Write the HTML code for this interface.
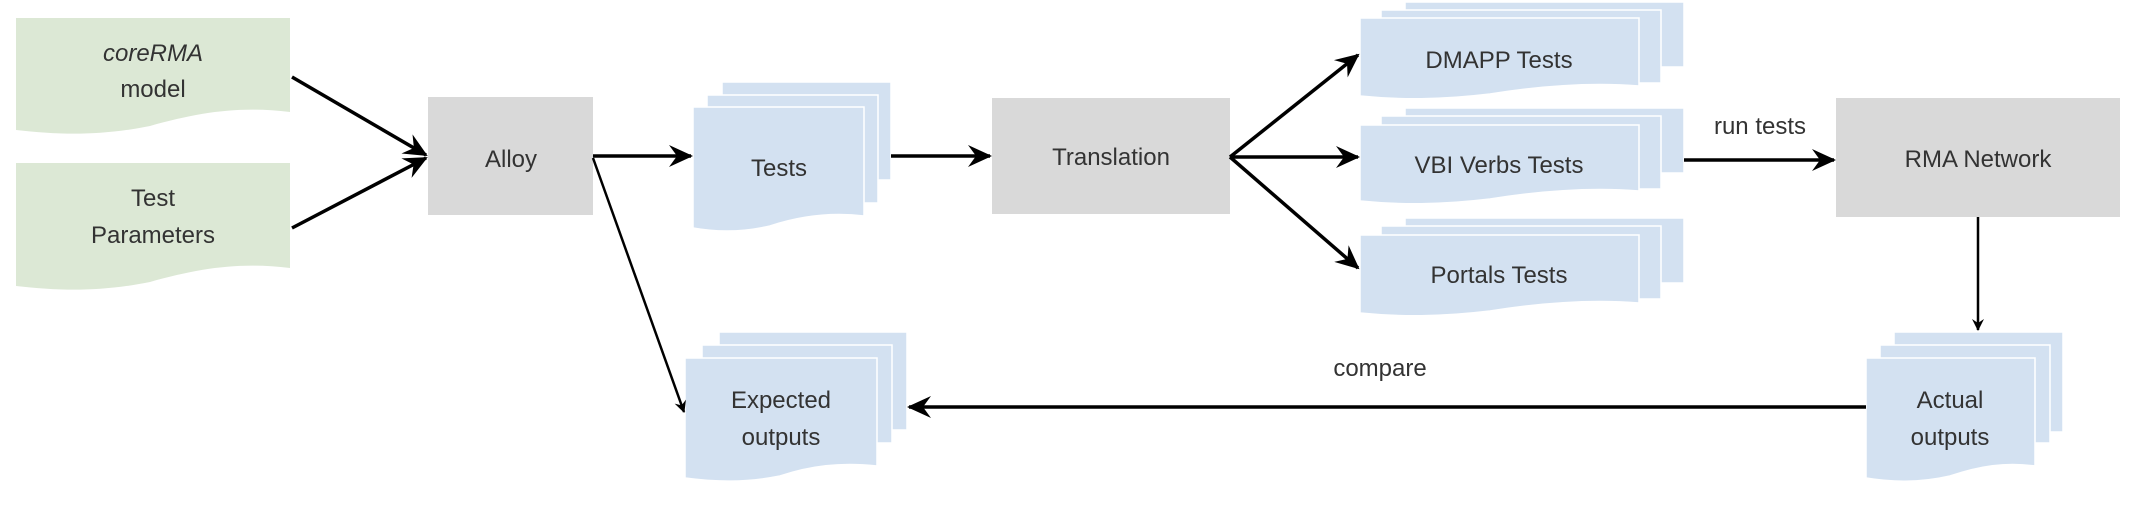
<!DOCTYPE html>
<html><head><meta charset="utf-8"><style>
html,body{margin:0;padding:0;background:#fff;}
svg text{font-family:"Liberation Sans",sans-serif;font-size:24px;fill:#333;}
</style></head><body>
<svg width="2136" height="512" viewBox="0 0 2136 512" xmlns="http://www.w3.org/2000/svg">
<defs>
<marker id="a" markerWidth="12" markerHeight="12" refX="11" refY="6" orient="auto" markerUnits="userSpaceOnUse" viewBox="0 0 12 12">
<path d="M0,0 L12,6 L0,12 L4,6 Z" fill="#000"/>
</marker>
<marker id="b" markerWidth="24" markerHeight="24" refX="22" refY="12" orient="auto" markerUnits="userSpaceOnUse" viewBox="0 0 24 24">
<path d="M0,1 L24,12 L0,23 L8,12 Z" fill="#000"/>
</marker>
</defs>
<g fill="#dce8d5">
<path d="M16,18 H290 V112 C240,106 200,112 150,126 C100,136 60,135 16,130 Z"/>
<path d="M16,163 H290 V268 C240,262 200,268 150,282 C100,292 60,291 16,286 Z"/>
</g>
<g fill="#d9d9d9">
<rect x="428" y="97" width="165" height="118"/>
<rect x="992" y="98" width="238" height="116"/>
<rect x="1836" y="98" width="284" height="119"/>
</g>
<g fill="#d3e1f1" stroke="#fff" stroke-width="1.5">
<rect x="722" y="82" width="169" height="98"/>
<rect x="707" y="95" width="171" height="108"/>
<path d="M693,107 H864 V216 C830,212 800,216 770,226 C740,233 715,232 693,228 Z"/>
<rect x="1405" y="2" width="279" height="65"/>
<rect x="1381" y="10" width="280" height="73"/>
<path d="M1360,18 H1639 V86 C1590,82 1540,86 1490,94 C1440,100 1400,100 1360,96 Z"/>
<rect x="1405" y="108" width="279" height="65"/>
<rect x="1381" y="116" width="280" height="73"/>
<path d="M1360,125 H1639 V191 C1590,187 1540,191 1490,199 C1440,205 1400,205 1360,201 Z"/>
<rect x="1405" y="218" width="279" height="65"/>
<rect x="1381" y="226" width="280" height="73"/>
<path d="M1360,235 H1639 V303 C1590,299 1540,303 1490,311 C1440,317 1400,317 1360,313 Z"/>
<rect x="719" y="332" width="188" height="98"/>
<rect x="702" y="345" width="190" height="98"/>
<path d="M685,358 H877 V466 C840,462 810,466 780,476 C745,483 715,482 685,478 Z"/>
<rect x="1894" y="332" width="169" height="100"/>
<rect x="1880" y="345" width="170" height="98"/>
<path d="M1866,358 H2035 V466 C2005,462 1980,466 1950,476 C1920,483 1890,482 1866,478 Z"/>
</g>
<g stroke="#000" stroke-width="3.5" fill="none">
<line x1="292" y1="77" x2="426" y2="155" marker-end="url(#b)"/>
<line x1="292" y1="228" x2="426" y2="158" marker-end="url(#b)"/>
<line x1="593" y1="156" x2="691" y2="156" marker-end="url(#b)"/>
<line x1="891" y1="156" x2="990" y2="156" marker-end="url(#b)"/>
<line x1="1230" y1="157" x2="1358" y2="55" marker-end="url(#b)"/>
<line x1="1230" y1="157" x2="1358" y2="157" marker-end="url(#b)"/>
<line x1="1230" y1="157" x2="1358" y2="268" marker-end="url(#b)"/>
<line x1="1684" y1="160" x2="1834" y2="160" marker-end="url(#b)"/>
<line x1="1866" y1="407" x2="909" y2="407" marker-end="url(#b)"/>
</g>
<g stroke="#000" stroke-width="2.5" fill="none">
<line x1="593" y1="158" x2="684" y2="412" marker-end="url(#a)"/>
<line x1="1978" y1="217" x2="1978" y2="330" marker-end="url(#a)"/>
</g>
<g text-anchor="middle">
<text x="153" y="61" font-style="italic">coreRMA</text>
<text x="153" y="97">model</text>
<text x="153" y="206">Test</text>
<text x="153" y="243">Parameters</text>
<text x="511" y="167">Alloy</text>
<text x="779" y="176">Tests</text>
<text x="1111" y="165">Translation</text>
<text x="1499" y="68">DMAPP Tests</text>
<text x="1499" y="173">VBI Verbs Tests</text>
<text x="1499" y="283">Portals Tests</text>
<text x="1978" y="167">RMA Network</text>
<text x="1760" y="134">run tests</text>
<text x="1380" y="376">compare</text>
<text x="781" y="408">Expected</text>
<text x="781" y="445">outputs</text>
<text x="1950" y="408">Actual</text>
<text x="1950" y="445">outputs</text>
</g>
</svg>
</body></html>
